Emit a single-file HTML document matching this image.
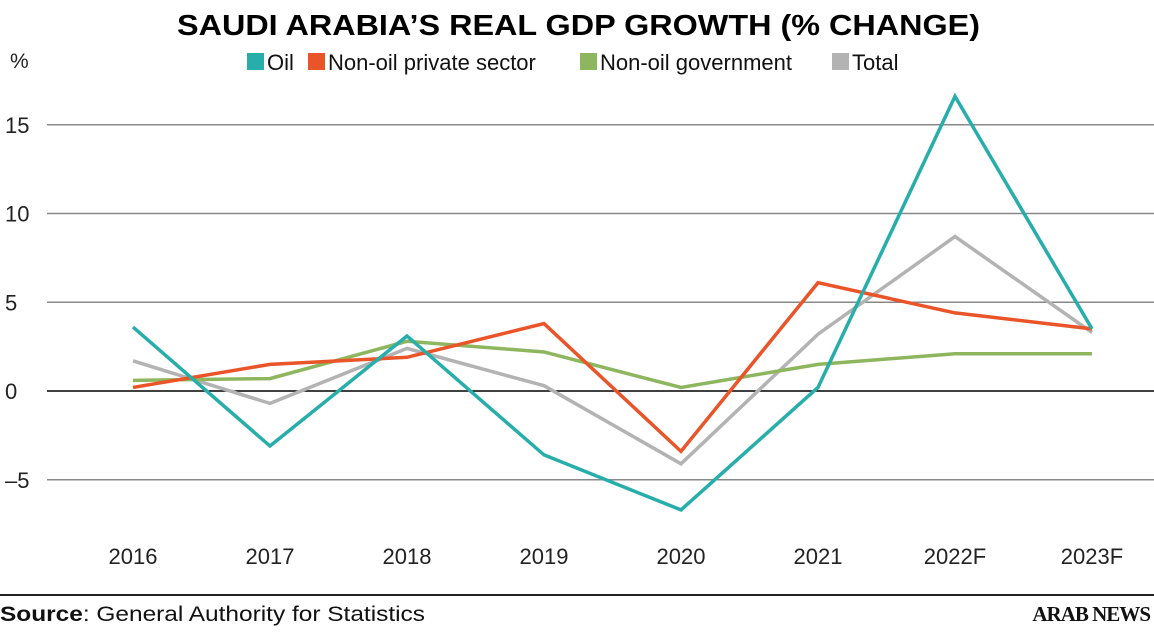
<!DOCTYPE html>
<html><head><meta charset="utf-8"><style>
body{margin:0;background:#fff;width:1154px;height:635px;overflow:hidden;font-family:"Liberation Sans",sans-serif}
svg{display:block}
</style></head><body>
<svg width="1154" height="635" xmlns="http://www.w3.org/2000/svg">
<text x="177" y="35" font-size="29" font-weight="bold" fill="#000" textLength="803" lengthAdjust="spacingAndGlyphs">SAUDI ARABIA’S REAL GDP GROWTH (% CHANGE)</text>
<text x="10" y="68" font-size="21" fill="#222">%</text>
<g id="legend"></g>
<g id="grid"></g>
<g id="series"></g>
<g id="xlabels"></g>
<line x1="0" y1="595" x2="1154" y2="595" stroke="#222" stroke-width="2"/>
<text x="0" y="621" font-size="21" fill="#111" textLength="425" lengthAdjust="spacingAndGlyphs"><tspan font-weight="bold">Source</tspan>: General Authority for Statistics</text>
<text x="1150" y="621" text-anchor="end" font-size="21" font-weight="bold" font-family="Liberation Serif,serif" fill="#111" letter-spacing="-1">ARAB NEWS</text>
</svg>
<script>
const categories=["2016","2017","2018","2019","2020","2021","2022F","2023F"];
const oil=[3.6,-3.1,3.1,-3.6,-6.7,0.2,16.6,3.5];
const nonOilPrivate=[0.2,1.5,1.9,3.8,-3.4,6.1,4.4,3.5];
const nonOilGov=[0.6,0.7,2.8,2.2,0.2,1.5,2.1,2.1];
const total=[1.7,-0.7,2.4,0.3,-4.1,3.2,8.7,3.3];
const yTicks=[15,10,5,0,-5];
const NS="http://www.w3.org/2000/svg";
const xs=i=>133+i*137;
const ys=v=>391-v*17.75;
function mk(t,a,p){const e=document.createElementNS(NS,t);for(const k in a)e.setAttribute(k,a[k]);p.appendChild(e);return e;}
const grid=document.getElementById('grid');
yTicks.forEach(v=>{
 const l=mk('line',{x1:47,x2:1154,y1:ys(v),y2:ys(v),stroke:v===0?'#000':'#888','stroke-width':1.5},grid);
 
 
 const t=mk('text',{x:5,y:ys(v)+8,'font-size':22,fill:'#222'},grid);
 t.textContent=v<0?'–'+Math.abs(v):String(v);
 
 
});
const xl=document.getElementById('xlabels');
categories.forEach((c,i)=>{
 const t=mk('text',{x:xs(i),y:564,'font-size':22,fill:'#222','text-anchor':'middle'},xl);
 t.textContent=c;
 
 
});
const sg=document.getElementById('series');
[[total,'#b3b3b3','total-line'],[nonOilGov,'#8db65f','non-oil-government-line'],[nonOilPrivate,'#ea5429','non-oil-private-line'],[oil,'#27aeab','oil-line']].forEach(([d,c,n])=>{
 const p=mk('polyline',{points:d.map((v,i)=>xs(i)+','+ys(v)).join(' '),fill:'none',stroke:c,'stroke-width':3.5,'stroke-linejoin':'miter'},sg);
 
 
});
const lg=document.getElementById('legend');
[['Oil','#27aeab',247,48],['Non-oil private sector','#ea5429',308,250],['Non-oil government','#8db65f',580,232],['Total','#b3b3b3',832,76]].forEach(([t,c,x,w])=>{
 const g=mk('g',{},lg);
 
 
 mk('rect',{x:x,y:53,width:17,height:17,fill:c},g);
 const tx=mk('text',{x:x+20,y:70,'font-size':22,fill:'#111'},g);
 tx.textContent=t;
});
</script>
</body></html>
